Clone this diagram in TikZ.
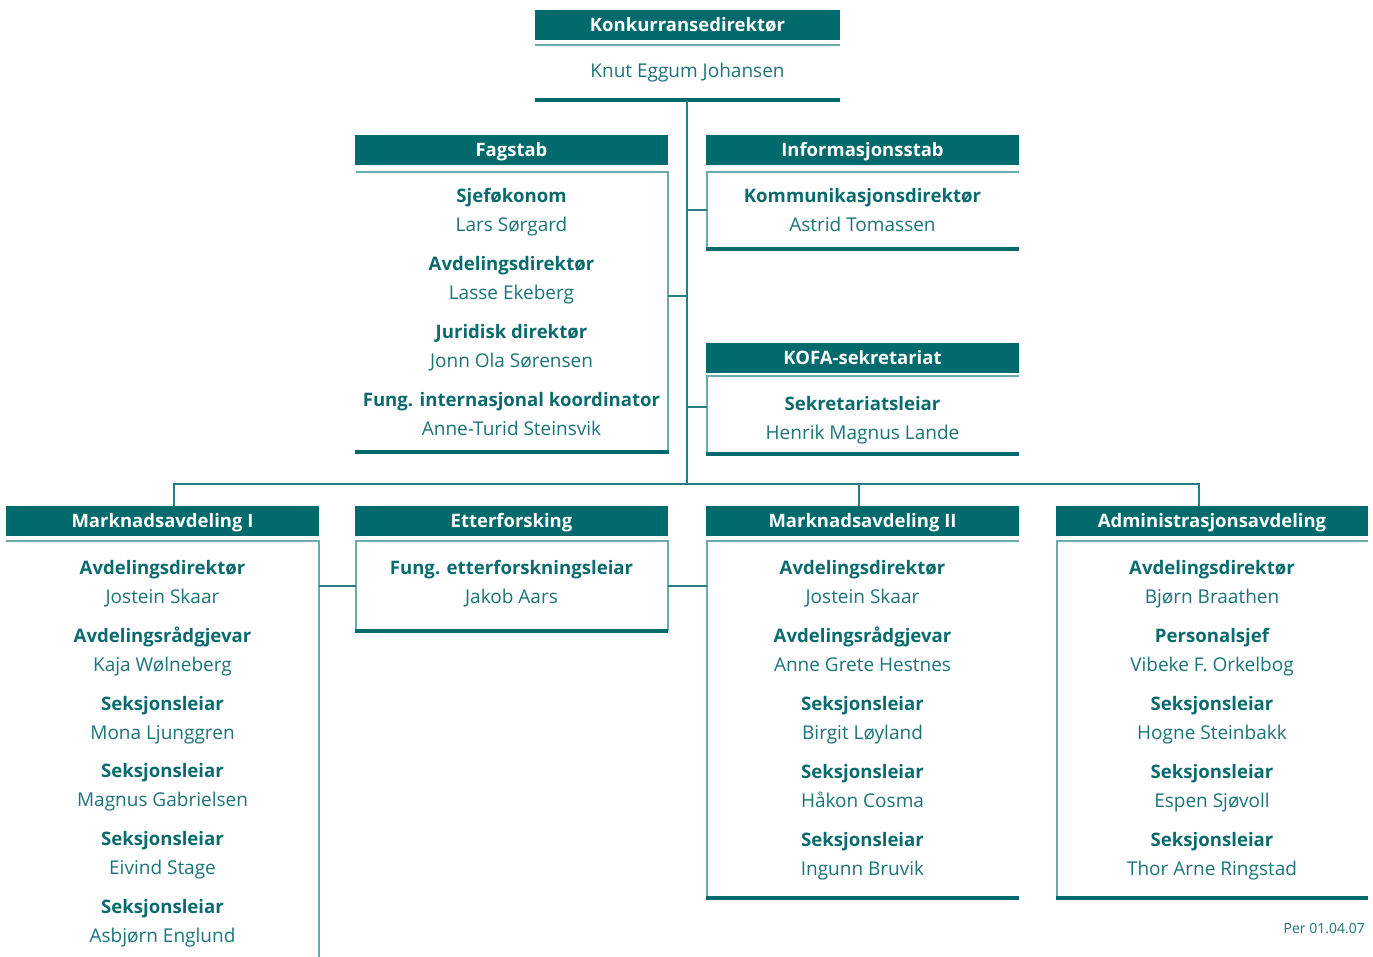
\documentclass[tikz,border=0pt]{standalone}
\usepackage{fontspec}
\setmainfont{Open Sans}
\definecolor{hdrc}{HTML}{006A6C}
\definecolor{ttlc}{HTML}{0A6B6E}
\definecolor{nmc}{HTML}{1B7479}
\definecolor{edgec}{HTML}{6AABAE}
\definecolor{conc}{HTML}{2A7C80}
\begin{document}
\begin{tikzpicture}[x=1pt,y=-1pt,
  hdr/.style={fill=hdrc,text=white,font=\fontsize{18.5}{22}\selectfont\bfseries,minimum width=313pt,minimum height=30pt,inner sep=0pt,outer sep=0pt,text height=15pt,text depth=2pt},
  body/.style={inner sep=0pt,outer sep=0pt,anchor=north west},
  ttl/.style={text=ttlc,font=\fontsize{18.6}{22}\selectfont\bfseries,anchor=base,inner sep=0pt},
  nm/.style={text=nmc,font=\fontsize{19}{22}\selectfont,anchor=base,inner sep=0pt},
  edge/.style={draw=edgec,line width=1.3pt},
  thickb/.style={draw=hdrc,line width=4pt},
  con/.style={draw=conc,line width=1.1pt}]
\useasboundingbox (0,0) rectangle (1373,957);

% ---------- top ----------
\node[hdr,minimum width=305pt] (dirH) at (687.5,25) {Konkurransedirektør};
\node[body,minimum width=305pt,minimum height=55pt] (dirB) at (535,45) {};
\draw[edge] (dirB.north west) -- (dirB.north east);
\draw[thickb] (dirB.south west) -- (dirB.south east);
\node[nm] (dirN) at (687.5,78) {Knut Eggum Johansen};

% ---------- Fagstab ----------
\node[hdr] (fagH) at (511.5,150) {Fagstab};
\node[body,minimum width=312pt,minimum height=280pt] (fagB) at (356,172) {};
\draw[edge] (fagB.north west) -- (fagB.north east) -- (fagB.south east);
\draw[thickb] ([xshift=-1pt]fagB.south west) -- ([xshift=1pt]fagB.south east);
\foreach \t/\n [count=\i from 0] in {Sjeføkonom/Lars Sørgard,Avdelingsdirektør/Lasse Ekeberg,Juridisk direktør/Jonn Ola Sørensen,Fung. internasjonal koordinator/Anne-Turid Steinsvik}{
  \node[ttl] (fagT\i) at (511.5,202.5+68*\i) {\t};
  \node[nm] (fagN\i) at (511.5,231.5+68*\i) {\n};
}

% ---------- Informasjonsstab ----------
\node[hdr] (infH) at (862.5,150) {Informasjonsstab};
\node[body,minimum width=312pt,minimum height=77pt] (infB) at (707,172) {};
\draw[edge] (infB.north east) -- (infB.north west) -- (infB.south west);
\draw[thickb] ([xshift=-1pt]infB.south west) -- (infB.south east);
\node[ttl] (infT) at (862.5,202.5) {Kommunikasjonsdirektør};
\node[nm] (infN) at (862.5,231.5) {Astrid Tomassen};

% ---------- KOFA ----------
\node[hdr] (kofH) at (862.5,358) {KOFA-sekretariat};
\node[body,minimum width=312pt,minimum height=78pt] (kofB) at (707,376) {};
\draw[edge] (kofB.north east) -- (kofB.north west) -- (kofB.south west);
\draw[thickb] ([xshift=-1pt]kofB.south west) -- (kofB.south east);
\node[ttl] (kofT) at (862.5,410.5) {Sekretariatsleiar};
\node[nm] (kofN) at (862.5,439.5) {Henrik Magnus Lande};

% ---------- bottom row ----------
\node[hdr] (m1H) at (162.5,521) {Marknadsavdeling I};
\node[body,minimum width=313pt,minimum height=416pt] (m1B) at (6,541) {};
\draw[edge] (m1B.north west) -- (m1B.north east) -- (m1B.south east);
\foreach \t/\n [count=\i from 0] in {Avdelingsdirektør/Jostein Skaar,Avdelingsrådgjevar/Kaja Wølneberg,Seksjonsleiar/Mona Ljunggren,Seksjonsleiar/Magnus Gabrielsen,Seksjonsleiar/Eivind Stage,Seksjonsleiar/Asbjørn Englund}{
  \node[ttl] (m1T\i) at (162.5,574.5+67.8*\i) {\t};
  \node[nm] (m1N\i) at (162.5,603.5+67.8*\i) {\n};
}

\node[hdr] (etH) at (511.5,521) {Etterforsking};
\node[body,minimum width=312pt,minimum height=90pt] (etB) at (356,541) {};
\draw[edge] (etB.south west) -- (etB.north west) -- (etB.north east) -- (etB.south east);
\draw[thickb] ([xshift=-1pt]etB.south west) -- (etB.south east);
\node[ttl] (etT) at (511.5,574.5) {Fung. etterforskningsleiar};
\node[nm] (etN) at (511.5,603.5) {Jakob Aars};

\node[hdr] (m2H) at (862.5,521) {Marknadsavdeling II};
\node[body,minimum width=312pt,minimum height=357pt] (m2B) at (707,541) {};
\draw[edge] (m2B.north east) -- (m2B.north west) -- (m2B.south west);
\draw[thickb] ([xshift=-1pt]m2B.south west) -- (m2B.south east);
\foreach \t/\n [count=\i from 0] in {Avdelingsdirektør/Jostein Skaar,Avdelingsrådgjevar/Anne Grete Hestnes,Seksjonsleiar/Birgit Løyland,Seksjonsleiar/Håkon Cosma,Seksjonsleiar/Ingunn Bruvik}{
  \node[ttl] (m2T\i) at (862.5,574.5+68*\i) {\t};
  \node[nm] (m2N\i) at (862.5,603.5+68*\i) {\n};
}

\node[hdr,minimum width=312pt] (adH) at (1212,521) {Administrasjonsavdeling};
\node[body,minimum width=311pt,minimum height=357pt] (adB) at (1057,541) {};
\draw[edge] (adB.north east) -- (adB.north west) -- (adB.south west);
\draw[thickb] ([xshift=-1pt]adB.south west) -- (adB.south east);
\foreach \t/\n [count=\i from 0] in {Avdelingsdirektør/Bjørn Braathen,Personalsjef/Vibeke F. Orkelbog,Seksjonsleiar/Hogne Steinbakk,Seksjonsleiar/Espen Sjøvoll,Seksjonsleiar/Thor Arne Ringstad}{
  \node[ttl] (adT\i) at (1212,574.5+68*\i) {\t};
  \node[nm] (adN\i) at (1212,603.5+68*\i) {\n};
}

% ---------- connectors ----------
\coordinate (bus) at (687,484);
\draw[con] ([xshift=-0.5pt]dirB.south) -- (bus);
\draw[con] (fagB.east |- 0,296) -- (687,296);
\draw[con] (687,210) -- (infB.west |- 0,210);
\draw[con] (687,407) -- (kofB.west |- 0,407);
\draw[con] (m1H.north -| 174,0) |- (bus) -| (adH.north -| 1199,0);
\draw[con] (859,484) -- (m2H.north -| 859,0);
\draw[con] (m1B.east |- 0,586) -- (etB.west |- 0,586);
\draw[con] (etB.east |- 0,586) -- (m2B.west |- 0,586);

\node[text=nmc,font=\fontsize{14}{16}\selectfont,anchor=base east,inner sep=0pt] (per) at (1365,933) {Per 01.04.07};
\end{tikzpicture}
\end{document}
